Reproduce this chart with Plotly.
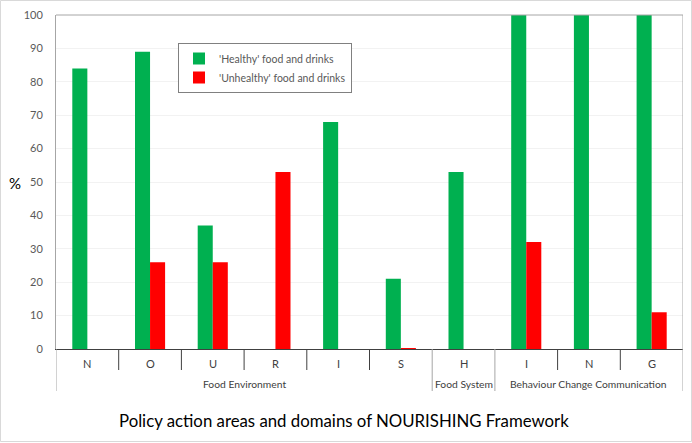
import plotly.graph_objects as go

groups = ["Food Environment", "Food System", "Behaviour Change Communication"]
group_sizes = [6, 1, 3]
areas = ["N", "O", "U", "R", "I", "S", "H", "I", "N", "G"]
healthy = [84, 89, 37, 0, 68, 21, 53, 100, 100, 100]
unhealthy = [0, 26, 26, 53, 0, 0.3, 0, 32, 0, 11]
y_ticks = list(range(0, 101, 10))

W, H = 692, 443
L, R, T, B = 56, 9, 15, 94
pw, ph = W - L - R, H - T - B

FONT = "Lato"
GREY = "#595959"

xpos = list(range(len(areas)))

fig = go.Figure()
fig.add_trace(go.Bar(x=xpos, y=healthy, name="'Healthy' food and drinks",
                     marker=dict(color="#00B050", line=dict(width=0))))
fig.add_trace(go.Bar(x=xpos, y=unhealthy, name="'Unhealthy' food and drinks",
                     marker=dict(color="#FF0000", line=dict(width=0))))


def px(xp):
    return (xp - L) / pw


def py(yp):
    return (T + ph - yp) / ph


shapes = [
    dict(type="line", xref="paper", yref="paper", x0=0, x1=1, y0=1, y1=1,
         line=dict(color="#A6A6A6", width=1)),
    dict(type="rect", xref="paper", yref="paper", x0=px(0.5), x1=px(W - 0.5),
         y0=py(H - 1.5), y1=py(0.5), line=dict(color="#D9D9D9", width=1), layer="below"),
]

annotations = [dict(text="%", xref="paper", yref="paper", x=px(15), y=py(183),
                    showarrow=False, font=dict(family=FONT, size=15, color="#000000"),
                    xanchor="center", yanchor="middle")]

for i, a in enumerate(areas):
    annotations.append(dict(text=a, xref="x", yref="paper", x=i, y=py(363),
                            showarrow=False, xanchor="center", yanchor="middle",
                            font=dict(family=FONT, size=11, color="#404040")))

bounds = [-0.5]
for n in group_sizes:
    bounds.append(bounds[-1] + n)
group_edges = set(bounds)
for i in range(len(areas) - 1):
    b = i + 0.5
    if b in group_edges:
        continue
    shapes.append(dict(type="line", xref="x", yref="paper", x0=b, x1=b,
                       y0=0, y1=py(370), line=dict(color="#404040", width=1)))
for b in bounds:
    shapes.append(dict(type="line", xref="x", yref="paper", x0=b, x1=b,
                       y0=(1 if b == bounds[-1] else 0), y1=py(391),
                       line=dict(color="#A6A6A6", width=1)))
for g, lo, hi in zip(groups, bounds[:-1], bounds[1:]):
    annotations.append(dict(text=g, xref="x", yref="paper", x=(lo + hi) / 2, y=py(384),
                            showarrow=False, xanchor="center", yanchor="middle",
                            font=dict(family=FONT, size=10.3, color="#404040")))

annotations.append(dict(text="Policy action areas and domains of NOURISHING Framework",
                        xref="paper", yref="paper", x=px(343.5), y=py(420),
                        xanchor="center", yanchor="middle", showarrow=False,
                        font=dict(family=FONT, size=16.8, color="#000000")))

fig.update_layout(
    width=W, height=H, autosize=False,
    margin=dict(l=L, r=R, t=T, b=B, pad=0, autoexpand=False),
    paper_bgcolor="white", plot_bgcolor="white",
    font=dict(family=FONT, color=GREY, size=11),
    barmode="group", bargap=0.52, bargroupgap=0,
    showlegend=True,
    legend=dict(x=px(178), y=py(43), xanchor="left", yanchor="top",
                bordercolor="#808080", borderwidth=1, bgcolor="white",
                font=dict(family=FONT, size=10.5, color=GREY),
                itemwidth=30),
    shapes=shapes,
    annotations=annotations,
)

fig.update_yaxes(range=[0, 100], tickvals=y_ticks, ticktext=[str(v) for v in y_ticks],
                 showgrid=True, gridcolor="#F2F2F2", gridwidth=1,
                 showline=True, linecolor="#A6A6A6", linewidth=1,
                 ticks="outside", ticklen=10, tickcolor="rgba(0,0,0,0)",
                 tickfont=dict(family=FONT, size=11, color=GREY),
                 zeroline=False, fixedrange=True, automargin=False)

fig.update_xaxes(range=[-0.5, len(areas) - 0.5], showticklabels=False,
                 showline=True, linecolor="#404040", linewidth=1,
                 ticks="", showgrid=False, zeroline=False, automargin=False,
                 fixedrange=True)

fig.write_html("out.html", config={"displayModeBar": False, "staticPlot": True},
               post_script="document.body.style.margin='0px';document.body.style.overflow='hidden';")
